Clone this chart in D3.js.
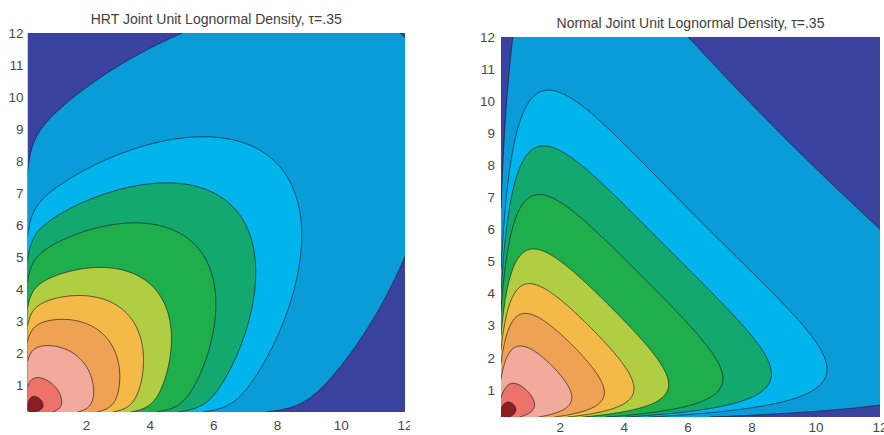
<!DOCTYPE html>
<html><head><meta charset="utf-8">
<script src="https://cdn.jsdelivr.net/npm/d3@7"></script>
<style>body{margin:0;background:#fff}svg{display:block}</style>
</head><body><svg id="c" width="884" height="435"></svg>
<script>
// ---- data ----
const tau = 0.35;                       // Kendall's tau for both copulas
const levels = [0.0001, 0.0005, 0.001, 0.002, 0.005, 0.01, 0.02, 0.05, 0.2, 0.5];
const fillColors = ["#3a42a0", "#0a9bd9", "#00b5ec", "#12a86e", "#1fae4c", "#b1cd42",
                    "#f5b948", "#f0a254", "#f1aa9c", "#ec7369", "#8c1e22"];
const xTicks = [2, 4, 6, 8, 10, 12];
const yTicks = [1, 2, 3, 4, 5, 6, 7, 8, 9, 10, 11, 12];
const gridMin = 0.15, gridMax = 12;
const titles = ["HRT Joint Unit Lognormal Density, \u03c4=.35",
                "Normal Joint Unit Lognormal Density, \u03c4=.35"];

// ---- density functions (unit lognormal marginals) ----
function erfc(x) {
  const z = Math.abs(x), t = 1 / (1 + 0.5 * z);
  const r = t * Math.exp(-z * z - 1.26551223 + t * (1.00002368 + t * (0.37409196 + t * (0.09678418 +
    t * (-0.18628806 + t * (0.27886807 + t * (-1.13520398 + t * (1.48851587 + t * (-0.82215223 + t * 0.17087277)))))))));
  return x >= 0 ? r : 2 - r;
}
const theta = 2 * tau / (1 - tau);
const rho = Math.sin(Math.PI * tau / 2);
function hrtDensity(x, y) {
  const u = Math.log(x), v = Math.log(y);
  const a = 0.5 * erfc(u / Math.SQRT2), b = 0.5 * erfc(v / Math.SQRT2);
  const la = Math.log(a), lb = Math.log(b);
  const s = Math.exp(-theta * la) + Math.exp(-theta * lb) - 1;
  const lc = Math.log(1 + theta) + (-theta - 1) * (la + lb) + (-2 - 1 / theta) * Math.log(s);
  const lf = -0.5 * u * u - 0.5 * v * v - Math.log(2 * Math.PI) - u - v;
  return Math.exp(lc + lf);
}
function normalDensity(x, y) {
  const u = Math.log(x), v = Math.log(y);
  const q = (u * u - 2 * rho * u * v + v * v) / (1 - rho * rho);
  return Math.exp(-q / 2 - u - v) / (2 * Math.PI * Math.sqrt(1 - rho * rho));
}

const panels = [
  {fn: hrtDensity, x: 27.5, y: 33, w: 377.5, h: 379, titleY: 24, xLabY: 430, yLabGap: 4, cut: 410, title: titles[0]},
  {fn: normalDensity, x: 501, y: 37, w: 379, h: 380, titleY: 28, xLabY: 432, yLabGap: 6, cut: 884, title: titles[1]}
];

const svg = d3.select("#c");
const n = 260;
const step = (gridMax - gridMin) / (n - 1);
const font = "Liberation Sans, Arial, Helvetica, sans-serif";

panels.forEach((p, k) => {
  const xs = d3.scaleLinear().domain([gridMin, gridMax]).range([p.x, p.x + p.w]);
  const ys = d3.scaleLinear().domain([gridMin, gridMax]).range([p.y + p.h, p.y]);
  const values = new Float64Array(n * n);
  for (let j = 0; j < n; j++) {
    const yv = gridMin + j * step;
    for (let i = 0; i < n; i++) {
      values[j * n + i] = p.fn(gridMin + i * step, yv);
    }
  }
  const contours = d3.contours().size([n, n]).thresholds(levels)(values);
  const proj = d3.geoTransform({
    point: function (cx, cy) {
      this.stream.point(xs(gridMin + (cx - 0.5) * step), ys(gridMin + (cy - 0.5) * step));
    }
  });
  const path = d3.geoPath(proj);

  const clipId = "clip" + k;
  svg.append("clipPath").attr("id", clipId)
    .append("rect").attr("x", p.x).attr("y", p.y).attr("width", p.w).attr("height", p.h);

  const g = svg.append("g").attr("clip-path", `url(#${clipId})`);
  g.append("rect").attr("x", p.x).attr("y", p.y).attr("width", p.w).attr("height", p.h)
    .attr("fill", fillColors[0]);
  g.selectAll("path.c").data(contours).join("path")
    .attr("class", "c")
    .attr("d", path)
    .attr("fill", (d, i) => fillColors[i + 1])
    .attr("stroke", "#1a1a2a")
    .attr("stroke-opacity", 0.85)
    .attr("stroke-width", 0.8)
    .attr("stroke-linejoin", "round");

  // title
  svg.append("text").attr("x", p.x + p.w / 2).attr("y", p.titleY)
    .attr("text-anchor", "middle")
    .attr("font-family", font)
    .attr("font-size", 14).attr("fill", "#404040")
    .text(p.title);

  // y tick labels
  svg.append("g").selectAll("text").data(yTicks).join("text")
    .attr("x", p.x - p.yLabGap).attr("y", d => ys(d)).attr("dy", "0.36em")
    .attr("text-anchor", "end")
    .attr("font-family", font)
    .attr("font-size", 13.5).attr("fill", "#4a4a4a")
    .text(d => d);

  // x tick labels
  const cutId = "cut" + k;
  svg.append("clipPath").attr("id", cutId)
    .append("rect").attr("x", 0).attr("y", 0).attr("width", p.cut).attr("height", 435);
  svg.append("g").attr("clip-path", `url(#${cutId})`)
    .selectAll("text").data(xTicks).join("text")
    .attr("x", d => xs(d)).attr("y", p.xLabY)
    .attr("text-anchor", "middle")
    .attr("font-family", font)
    .attr("font-size", 13.5).attr("fill", "#4a4a4a")
    .text(d => d);
});
</script>
</body></html>
